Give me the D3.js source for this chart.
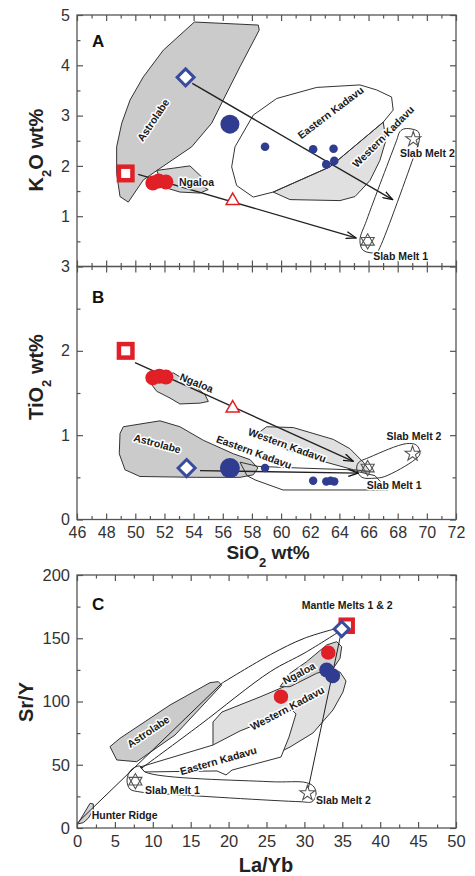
<!DOCTYPE html>
<html>
<head>
<meta charset="utf-8">
<script src="https://cdn.jsdelivr.net/npm/d3@7"></script>
<style>
  body { margin: 0; background: #fff; }
</style>
</head>
<body>
<svg id="chart" width="475" height="876"></svg>
<script>
// ---- ticks ----
var siTicks = d3.range(46, 73, 2);
var siMinor = d3.range(47, 72, 2);
var kTicks = [1, 2, 3, 4, 5];
var kMinor = [0.5, 1.5, 2.5, 3.5, 4.5];
var tiTicks = [0, 1, 2, 3];
var tiMinor = [0.5, 1.5, 2.5];
var laTicks = d3.range(0, 51, 5);
var laMinor = d3.range(2.5, 50, 5);
var srTicks = d3.range(0, 201, 50);
var srMinor = [25, 75, 125, 175];

// ---- panel A : K2O vs SiO2 ----
var astrolabeA = [[54.05,4.86],[58.44,4.80],[58.5,4.70],[57.18,3.97],[56.03,3.31],[55.24,2.85],[53.87,2.38],
  [51.69,1.95],[50.55,1.72],[49.52,1.28],[48.95,1.39],[48.72,1.85],[48.72,2.38],[49.07,2.85],[49.64,3.31],[50.55,3.77],[51.92,4.30]];
var ngaloaA = [[51.47,1.91],[53.75,2.0],[54.55,1.78],[54.21,1.66],[55.0,1.53],[54.44,1.46],[53.06,1.48],[51.92,1.58]];
var easternA = [[56.95,1.61],[56.61,1.98],[56.84,2.38],[58.09,3.01],[59.7,3.34],[62.44,3.56],[65.41,3.61],[66.56,3.51],
  [67.58,3.37],[67.69,3.11],[67.01,2.87],[63.35,1.98],[59.46,1.48],[58.09,1.38]];
var westernA = [[67.01,2.87],[67.19,2.51],[66.78,2.11],[66.1,1.71],[65.07,1.39],[64.04,1.31],[60.61,1.33],[59.46,1.48],[63.35,1.98]];
var slabA = [[68.5,2.74],[69.41,2.68],[69.48,2.51],[69.18,2.25],[66.78,0.38],[66.56,0.28],[65.64,0.32],[65.41,0.52],[65.87,0.92],[67.93,2.51],[68.15,2.68]];
var arrowsA = [[[53.91,3.64],[67.65,1.33]], [[50.2,1.83],[65.14,0.57]]];
var redSquareA = [[49.34,1.85]];
var redCirclesA = [[51.2,1.66],[51.6,1.70],[52.1,1.68]];
var redTriangleA = [[56.68,1.31]];
var blueDiamondA = [[53.45,3.76]];
var blueBigA = [[56.49,2.83]];
var blueSmallA = [[58.9,2.38],[62.2,2.33],[63.6,2.34],[63.65,2.10],[63.1,2.03]];
var slabMelt1A = [[65.94,0.50]];
var slabMelt2A = [[69.07,2.53]];
var labelsA = [
  {t:"Astrolabe", x:51.23, y:2.91, r:-56, a:"middle"},
  {t:"Ngaloa", x:53.0, y:1.68, r:0, a:"start"},
  {t:"Eastern Kadavu", x:63.4, y:3.06, r:-37, a:"middle"},
  {t:"Western Kadavu", x:67.01, y:2.58, r:-45, a:"middle"},
  {t:"Slab Melt 2", x:68.15, y:2.26, r:0, a:"start"},
  {t:"Slab Melt 1", x:66.32, y:0.21, r:0, a:"start"}
];

// ---- panel B : TiO2 vs SiO2 ----
var astrolabeB = [[49.18,1.10],[51.69,1.17],[53.06,1.10],[54.66,0.94],[56.72,0.78],[57.87,0.71],[58.41,0.61],[58.09,0.53],
  [57.18,0.50],[54.21,0.50],[50.32,0.51],[49.29,0.59],[48.9,0.78],[48.95,1.02]];
var ngaloaB = [[51.12,1.60],[52.6,1.74],[54.09,1.58],[54.78,1.48],[55.01,1.40],[54.44,1.38],[53.06,1.37],[52.38,1.44],[51.47,1.52]];
var westernB = [[59.01,1.10],[60.84,1.09],[63.58,0.95],[64.72,0.84],[65.64,0.68],[66.1,0.57],[64.95,0.59],[62.44,0.71],[60.15,0.84],[58.78,0.96],[58.55,1.04]];
var easternB = [[57.18,0.68],[58.41,0.63],[61.3,0.61],[64.72,0.59],[66.44,0.52],[67.33,0.35],[60.13,0.35],[58.21,0.47],[57.66,0.52]];
var slabB = [[65.29,0.67],[66.1,0.74],[68.61,0.90],[69.3,0.88],[69.53,0.78],[69.18,0.71],[67.12,0.51],[66.44,0.49],[65.55,0.50],[65.2,0.59]];
var arrowsB = [[[49.98,1.86],[64.95,0.69]], [[54.44,0.58],[65.3,0.55]]];
var redSquareB = [[49.34,2.0]];
var redCirclesB = [[51.2,1.68],[51.65,1.70],[52.1,1.69]];
var redTriangleB = [[56.68,1.32]];
var blueDiamondB = [[53.52,0.61]];
var blueBigB = [[56.49,0.61]];
var blueSmallB = [[58.9,0.61],[62.2,0.46],[63.1,0.45],[63.4,0.46],[63.65,0.45]];
var slabMelt1B = [[65.94,0.61]];
var slabMelt2B = [[69.02,0.78]];
var labelsB = [
  {t:"Ngaloa", x:54.21, y:1.62, r:22, a:"middle"},
  {t:"Astrolabe", x:51.51, y:0.90, r:15, a:"middle"},
  {t:"Western Kadavu", x:60.42, y:0.88, r:20, a:"middle"},
  {t:"Eastern Kadavu", x:58.14, y:0.80, r:20, a:"middle"},
  {t:"Slab Melt 2", x:67.24, y:0.99, r:0, a:"start"},
  {t:"Slab Melt 1", x:65.87, y:0.41, r:0, a:"start"}
];

// ---- panel C : Sr/Y vs La/Yb ----
var astrolabeC = [[4.35,64.3],[5.24,53.8],[7.88,52.4],[12.93,73.5],[19.09,113.0],[18.64,115.7],[17.55,114.9],[12.27,97.2],[5.67,70.9]];
var westernC = [[17.94,60.1],[17.94,83.8],[19.13,91.7],[24.14,103.6],[29.42,117.0],[32.32,124.9],[34.7,123.3],[35.49,116.2],
  [35.09,107.5],[33.77,93.3],[31.13,75.1],[28.1,64.0],[25.46,56.1],[20.84,47.4]];
var ngaloaC = [[26.78,111.7],[28.1,122.3],[30.3,131.5],[32.94,144.7],[34.26,147.3],[34.92,143.3],[34.7,134.1],[33.81,126.2],[31.62,122.3],[28.1,111.7]];
var easternC = [[8.31,48.2],[17.94,65.6],[21.5,76.7],[28.36,93.3],[28.89,90.1],[27.97,71.9],[26.91,56.1],[20.45,45.8],[19.66,41.9],[18.47,45.1],[8.97,44.3]];
var slabC = [[6.6,37.9],[7.12,45.8],[8.31,49.0],[8.97,44.3],[25.46,36.6],[30.3,35.8],[31.27,32.4],[31.53,26.1],[31.0,20.8],[29.42,20.8],[10.51,27.4],[8.31,28.5],[6.99,30.8]];
var hunterC = [[0.1,3.2],[1.72,19.5],[2.15,19.0],[2.15,14.2],[1.49,7.7],[0.83,4.2]];
var hunterLine = [[0.2,5.0],[19.1,114.4]];
var upperCurve = [[19.1,114.4],[25.5,137.0],[30.0,150.0],[34.7,158.5]];
var lowerCurve = [[8.5,47.2],[16.2,81.4],[25.5,123.6],[30.1,138.6],[34.7,155.7]];
var meltLine = [[34.9,156.0],[30.5,31.0]];
var redSquareC = [[35.58,159.9]];
var blueDiamondC = [[34.92,157.3]];
var redCirclesC = [[33.15,138.6],[26.91,103.8]];
var blueCirclesC = [[32.94,124.9],[33.73,120.4]];
var slabMelt1C = [[7.7,37.0]];
var slabMelt2C = [[30.4,27.5]];
var labelsC = [
  {t:"Mantle Melts 1 & 2", x:29.64, y:175.7, r:0, a:"start"},
  {t:"Astrolabe", x:9.41, y:76.1, r:-34, a:"middle"},
  {t:"Eastern Kadavu", x:18.64, y:53.2, r:-16, a:"middle"},
  {t:"Western Kadavu", x:27.74, y:94.6, r:-28, a:"middle"},
  {t:"Ngaloa", x:29.29, y:122.3, r:-28, a:"middle"},
  {t:"Slab Melt 1", x:8.97, y:30.0, r:0, a:"start"},
  {t:"Slab Melt 2", x:31.53, y:21.6, r:0, a:"start"},
  {t:"Hunter Ridge", x:1.94, y:10.3, r:0, a:"start"}
];

var FONT = '"Liberation Sans", Arial, Helvetica, sans-serif';
var RED = "#e01f26", BLUE = "#2f3c8f", DBLUE = "#3a4a9c";

var svg = d3.select("#chart");

var xSi = d3.scaleLinear().domain([46, 72]).range([77, 456]);
var yK = d3.scaleLinear().domain([0, 5]).range([266.5, 15]);
var yTi = d3.scaleLinear().domain([0, 3]).range([519.5, 266.5]);
var xLa = d3.scaleLinear().domain([0, 50]).range([77, 456]);
var ySr = d3.scaleLinear().domain([0, 200]).range([828, 575]);

svg.append("defs").append("marker")
    .attr("id", "ah").attr("viewBox", "0 0 11 8")
    .attr("refX", 10).attr("refY", 4)
    .attr("markerWidth", 11).attr("markerHeight", 8)
    .attr("markerUnits", "userSpaceOnUse").attr("orient", "auto")
  .append("path").attr("d", "M0,0.5 L10,4 L0,7.5")
    .attr("fill", "none").attr("stroke", "#111").attr("stroke-width", 1.3);

function axis(gen, scale, vals, len, at, labels, fs) {
    var a = gen(scale).tickValues(vals).tickSize(-len).tickPadding(labels ? 7 : 0)
        .tickFormat(labels ? d3.format("d") : function () { return ""; });
    var g = svg.append("g").attr("transform", at).call(a);
    g.select(".domain").remove();
    g.selectAll(".tick line").attr("stroke", "#555").attr("stroke-width", 1.2);
    g.selectAll(".tick text").attr("font-family", FONT).attr("font-size", fs || 16).attr("fill", "#333");
}

// panel A/B axes
axis(d3.axisTop, xSi, siTicks, 6, "translate(0,15)", false);
axis(d3.axisTop, xSi, siMinor, 3.5, "translate(0,15)", false);
axis(d3.axisBottom, xSi, siTicks, 6, "translate(0,266.5)", false);
axis(d3.axisBottom, xSi, siMinor, 3.5, "translate(0,266.5)", false);
axis(d3.axisTop, xSi, siTicks, 6, "translate(0,266.5)", false);
axis(d3.axisTop, xSi, siMinor, 3.5, "translate(0,266.5)", false);
axis(d3.axisBottom, xSi, siTicks, 6, "translate(0,519.5)", true);
axis(d3.axisBottom, xSi, siMinor, 3.5, "translate(0,519.5)", false);
axis(d3.axisLeft, yK, kTicks, 6, "translate(77,0)", true);
axis(d3.axisLeft, yK, kMinor, 3.5, "translate(77,0)", false);
axis(d3.axisRight, yK, kTicks, 6, "translate(456,0)", false);
axis(d3.axisRight, yK, kMinor, 3.5, "translate(456,0)", false);
axis(d3.axisLeft, yTi, tiTicks, 6, "translate(77,0)", true);
axis(d3.axisLeft, yTi, tiMinor, 3.5, "translate(77,0)", false);
axis(d3.axisRight, yTi, tiTicks, 6, "translate(456,0)", false);
axis(d3.axisRight, yTi, tiMinor, 3.5, "translate(456,0)", false);
// panel C axes
axis(d3.axisTop, xLa, laTicks, 6, "translate(0,575)", false);
axis(d3.axisTop, xLa, laMinor, 3.5, "translate(0,575)", false);
axis(d3.axisBottom, xLa, laTicks, 6, "translate(0,828)", true, 16.5);
axis(d3.axisBottom, xLa, laMinor, 3.5, "translate(0,828)", false);
axis(d3.axisLeft, ySr, srTicks, 6, "translate(77,0)", true, 16.5);
axis(d3.axisLeft, ySr, srMinor, 3.5, "translate(77,0)", false);
axis(d3.axisRight, ySr, srTicks, 6, "translate(456,0)", false);
axis(d3.axisRight, ySr, srMinor, 3.5, "translate(456,0)", false);

function poly(x, y, pts, fill, curve) {
    svg.append("path").datum(pts)
        .attr("d", d3.line().x(function (d) { return x(d[0]); }).y(function (d) { return y(d[1]); })
            .curve(curve || d3.curveLinearClosed))
        .attr("fill", fill).attr("stroke", "#333").attr("stroke-width", 1);
}
function line(x, y, pts, curve, arrow) {
    var p = svg.append("path").datum(pts)
        .attr("d", d3.line().x(function (d) { return x(d[0]); }).y(function (d) { return y(d[1]); })
            .curve(curve || d3.curveLinear))
        .attr("fill", "none").attr("stroke", "#222").attr("stroke-width", arrow ? 1.4 : 1);
    if (arrow) p.attr("marker-end", "url(#ah)");
}
function circles(x, y, pts, r, color) {
    svg.append("g").selectAll("circle").data(pts).enter().append("circle")
        .attr("cx", function (d) { return x(d[0]); }).attr("cy", function (d) { return y(d[1]); })
        .attr("r", r).attr("fill", color);
}
function squares(x, y, pts, s, w) {
    svg.append("g").selectAll("rect").data(pts).enter().append("rect")
        .attr("x", function (d) { return x(d[0]) - s / 2; }).attr("y", function (d) { return y(d[1]) - s / 2; })
        .attr("width", s).attr("height", s)
        .attr("fill", "#fff").attr("stroke", RED).attr("stroke-width", w);
}
function diamonds(x, y, pts, h, w) {
    svg.append("g").selectAll("path").data(pts).enter().append("path")
        .attr("transform", function (d) { return "translate(" + x(d[0]) + "," + y(d[1]) + ")"; })
        .attr("d", "M0," + (-h) + "L" + h + ",0L0," + h + "L" + (-h) + ",0Z")
        .attr("fill", "#fff").attr("stroke", DBLUE).attr("stroke-width", w);
}
function triangles(x, y, pts, size) {
    svg.append("g").selectAll("path").data(pts).enter().append("path")
        .attr("transform", function (d) { return "translate(" + x(d[0]) + "," + y(d[1]) + ")"; })
        .attr("d", d3.symbol(d3.symbolTriangle, size))
        .attr("fill", "#fff").attr("stroke", RED).attr("stroke-width", 1.5);
}
function stars(x, y, pts, size) {
    svg.append("g").selectAll("path").data(pts).enter().append("path")
        .attr("transform", function (d) { return "translate(" + x(d[0]) + "," + y(d[1]) + ")"; })
        .attr("d", d3.symbol(d3.symbolStar, size))
        .attr("fill", "#fff").attr("stroke", "#555").attr("stroke-width", 1.1);
}
function hexagrams(x, y, pts, size) {
    var g = svg.append("g").selectAll("g").data(pts).enter().append("g")
        .attr("transform", function (d) { return "translate(" + x(d[0]) + "," + y(d[1]) + ")"; });
    [0, 180].forEach(function (rot) {
        g.append("path").attr("transform", "rotate(" + rot + ")")
            .attr("d", d3.symbol(d3.symbolTriangle, size))
            .attr("fill", "none").attr("stroke", "#555").attr("stroke-width", 1.1);
    });
}
function labels(x, y, list) {
    svg.append("g").selectAll("text").data(list).enter().append("text")
        .attr("transform", function (d) { return "translate(" + x(d.x) + "," + y(d.y) + ") rotate(" + d.r + ")"; })
        .attr("text-anchor", function (d) { return d.a; })
        .attr("dy", "0.35em")
        .attr("font-family", FONT).attr("font-size", 10.5).attr("font-weight", "bold")
        .attr("fill", "#1a1a1a")
        .attr("stroke", "#fff").attr("stroke-width", 3).attr("stroke-linejoin", "round")
        .attr("paint-order", "stroke")
        .text(function (d) { return d.t; });
}

// ---- draw panel A ----
poly(xSi, yK, astrolabeA, "#cbcbcb");
poly(xSi, yK, ngaloaA, "#d2d2d2");
poly(xSi, yK, westernA, "#e0e0e0");
poly(xSi, yK, easternA, "none");
poly(xSi, yK, slabA, "none", d3.curveCatmullRomClosed);
arrowsA.forEach(function (s) { line(xSi, yK, s, null, true); });
squares(xSi, yK, redSquareA, 13.5, 4.5);
circles(xSi, yK, redCirclesA, 7.5, RED);
triangles(xSi, yK, redTriangleA, 75);
diamonds(xSi, yK, blueDiamondA, 8.5, 3);
circles(xSi, yK, blueBigA, 9.5, BLUE);
circles(xSi, yK, blueSmallA, 4.3, BLUE);
hexagrams(xSi, yK, slabMelt1A, 75);
stars(xSi, yK, slabMelt2A, 70);
labels(xSi, yK, labelsA);

// ---- draw panel B ----
poly(xSi, yTi, astrolabeB, "#cbcbcb");
poly(xSi, yTi, ngaloaB, "#d2d2d2");
poly(xSi, yTi, westernB, "#e0e0e0");
poly(xSi, yTi, easternB, "none");
poly(xSi, yTi, slabB, "none", d3.curveCatmullRomClosed);
arrowsB.forEach(function (s) { line(xSi, yTi, s, null, true); });
squares(xSi, yTi, redSquareB, 13.5, 4.5);
circles(xSi, yTi, redCirclesB, 7.5, RED);
triangles(xSi, yTi, redTriangleB, 75);
diamonds(xSi, yTi, blueDiamondB, 8.5, 3);
circles(xSi, yTi, blueBigB, 10, BLUE);
circles(xSi, yTi, blueSmallB, 4.2, BLUE);
hexagrams(xSi, yTi, slabMelt1B, 75);
stars(xSi, yTi, slabMelt2B, 70);
labels(xSi, yTi, labelsB);

// ---- draw panel C ----
poly(xLa, ySr, hunterC, "#d2d2d2");
poly(xLa, ySr, astrolabeC, "#cbcbcb");
poly(xLa, ySr, westernC, "#e0e0e0");
poly(xLa, ySr, ngaloaC, "#d2d2d2");
poly(xLa, ySr, easternC, "#fff");
poly(xLa, ySr, slabC, "none", d3.curveCatmullRomClosed);
line(xLa, ySr, hunterLine);
line(xLa, ySr, upperCurve, d3.curveCatmullRom);
line(xLa, ySr, lowerCurve, d3.curveCatmullRom);
line(xLa, ySr, meltLine);
squares(xLa, ySr, redSquareC, 12.5, 4);
diamonds(xLa, ySr, blueDiamondC, 7.5, 3);
circles(xLa, ySr, redCirclesC, 7.2, RED);
circles(xLa, ySr, blueCirclesC, 7.5, BLUE);
hexagrams(xLa, ySr, slabMelt1C, 75);
stars(xLa, ySr, slabMelt2C, 70);
labels(xLa, ySr, labelsC);

// frames
[[15, 266.5], [266.5, 519.5], [575, 828]].forEach(function (f) {
    svg.append("rect").attr("x", 77).attr("y", f[0]).attr("width", 379).attr("height", f[1] - f[0])
        .attr("fill", "none").attr("stroke", "#555").attr("stroke-width", 1.3);
});

// panel letters
[["A", 47], ["B", 303], ["C", 610]].forEach(function (p) {
    svg.append("text").attr("x", 92).attr("y", p[1]).attr("font-family", FONT)
        .attr("font-size", 17).attr("font-weight", "bold").attr("fill", "#111").text(p[0]);
});

// axis titles
function title(x, y, rot, parts, fs) {
    var t = svg.append("text").attr("transform", "translate(" + x + "," + y + ") rotate(" + rot + ")")
        .attr("text-anchor", "middle").attr("font-family", FONT).attr("font-size", fs || 20)
        .attr("font-weight", "bold").attr("fill", "#222");
    parts.forEach(function (p) {
        var s = t.append("tspan").text(p[0]);
        if (p[1]) s.attr("font-size", 13).attr("baseline-shift", "sub");
    });
}
title(43, 150, -90, [["K"], ["2", 1], ["O wt%"]]);
title(43, 377, -90, [["TiO"], ["2", 1], [" wt%"]]);
title(33, 702, -90, [["Sr/Y"]]);
title(268, 559, 0, [["SiO"], ["2", 1], [" wt%"]], 19);
title(266, 872, 0, [["La/Yb"]]);
</script>
</body>
</html>
